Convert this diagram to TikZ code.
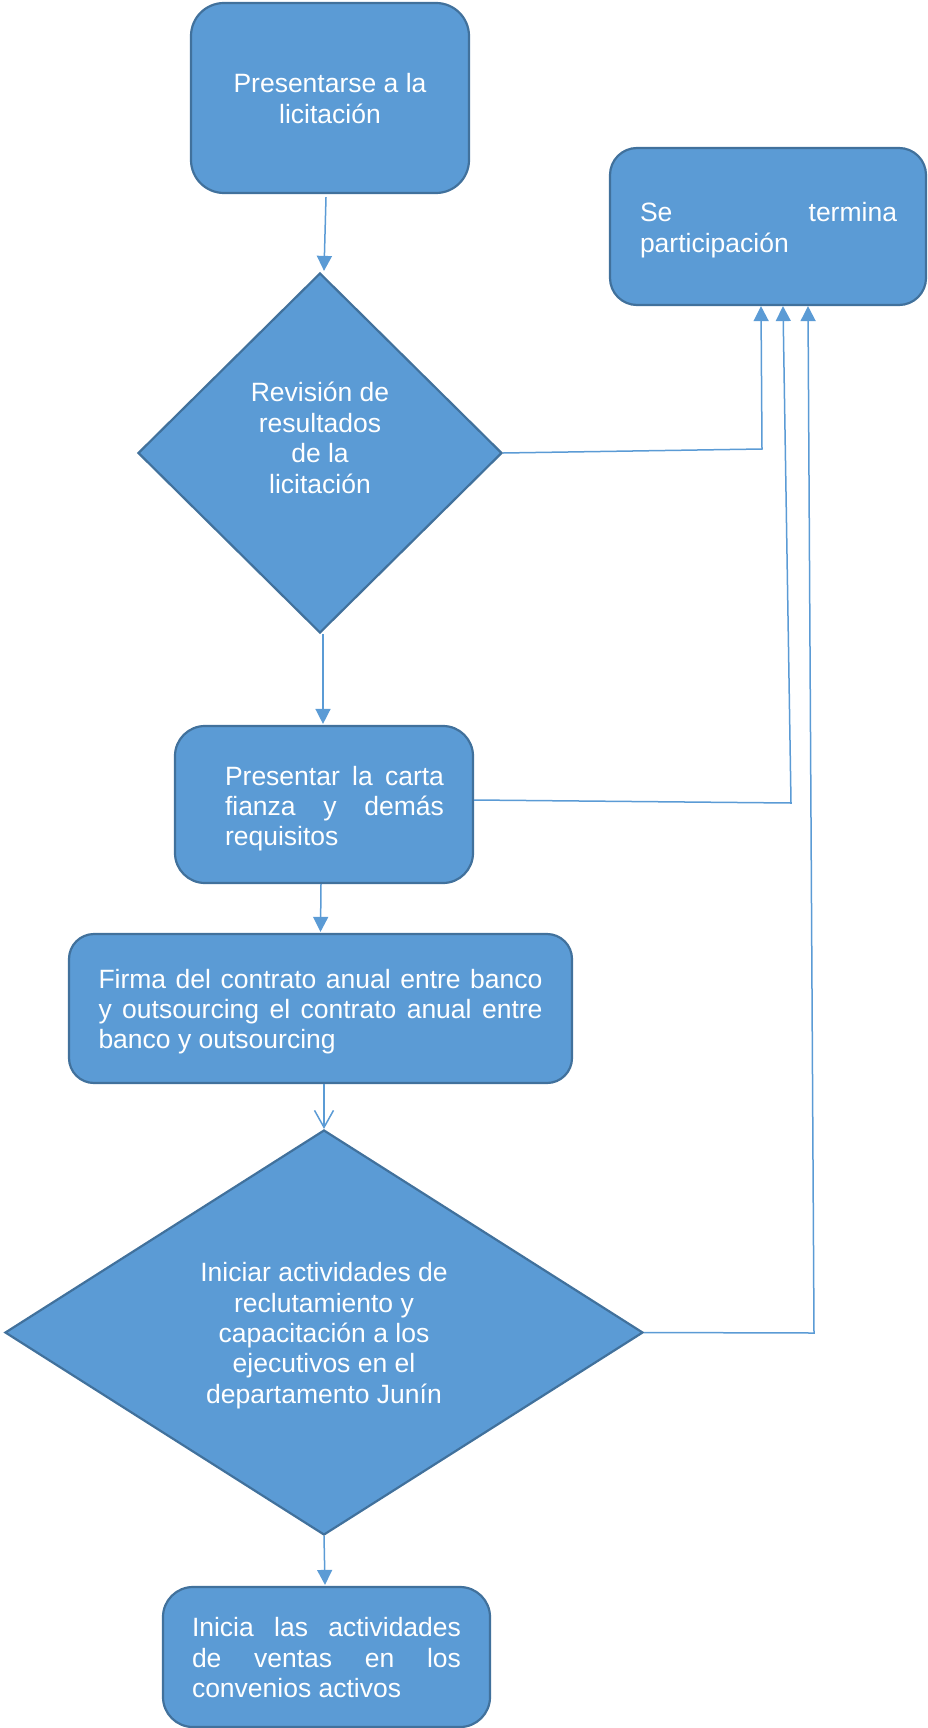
\documentclass[tikz,border=0pt]{standalone}
\usepackage{fontspec}
\setmainfont{Liberation Sans}
\usetikzlibrary{arrows.meta,shapes.geometric}
\definecolor{fillblue}{HTML}{5B9BD5}
\definecolor{edgeblue}{HTML}{41719C}
\definecolor{linkblue}{HTML}{5B9BD5}
% #1 left padding, #2 push text down, #3 column type, #4 lines
\newcommand\tb[4]{\raisebox{0pt}[\dimexpr\height+#2\relax][\dimexpr\depth-#2\relax]{\hspace*{#1}\begin{tabular}{@{}#3@{}}#4\end{tabular}}}
\tikzset{
  shapebase/.style={draw=edgeblue, fill=fillblue, line width=2.2pt, text=white, inner sep=0pt,
    font=\fontsize{26.5pt}{30.4pt}\selectfont},
  boxnode/.style={shapebase, rectangle},
  dianode/.style={shapebase, diamond, aspect=1},
  conn/.style={draw=linkblue, line width=1.5pt},
  arr/.style={conn, -{Triangle[width=15pt,length=15pt]}},
  openarr/.style={conn, -{Straight Barb[width=19pt,length=17pt]}}
}
\begin{document}
\begin{tikzpicture}[x=1pt,y=-1pt]
\useasboundingbox (0,0) rectangle (927,1728);

\node[boxnode, minimum width=278pt, minimum height=190pt, rounded corners=33pt] (n1) at (330,98)
  {\tb{0pt}{4pt}{c}{Presentarse a la\\licitación}};
\node[boxnode, minimum width=316pt, minimum height=157pt, rounded corners=27pt] (n2) at (768,226.5)
  {\tb{1pt}{4.6pt}{l}{\makebox[257pt][s]{Se termina}\\participación}};
\node[dianode, minimum width=364pt, minimum height=360pt] (d1) at (320,453)
  {\tb{0pt}{-11.5pt}{c}{Revisión de\\resultados\\de la\\licitación}};
\node[boxnode, minimum width=298pt, minimum height=157pt, rounded corners=30pt] (n3) at (324,804.5)
  {\tb{21pt}{5pt}{l}{\makebox[219pt][s]{Presentar la carta}\\\makebox[219pt][s]{fianza y demás}\\requisitos}};
\node[boxnode, minimum width=503pt, minimum height=149pt, rounded corners=25pt] (n4) at (320.5,1008.5)
  {\tb{0pt}{4pt}{l}{\makebox[444pt][s]{Firma del contrato anual entre banco}\\\makebox[444pt][s]{y outsourcing el contrato anual entre}\\banco y outsourcing}};
\node[dianode, minimum width=638pt, minimum height=405pt] (d2) at (324,1332.5)
  {\tb{0pt}{4pt}{c}{Iniciar actividades de\\reclutamiento y\\capacitación a los\\ejecutivos en el\\departamento Junín}};
\node[boxnode, minimum width=327pt, minimum height=140pt, rounded corners=30pt] (n5) at (326.5,1657)
  {\tb{0pt}{4pt}{l}{\makebox[269pt][s]{Inicia las actividades}\\\makebox[269pt][s]{de ventas en los}\\convenios activos}};

\coordinate (c1) at (762,449);
\coordinate (c2) at (791,803);
\coordinate (c3) at (814,1333);

\draw[arr] ([xshift=-4pt,yshift=-3pt]n1.south) -- ([xshift=4pt,yshift=1pt]d1.north);
\draw[arr] ([xshift=-1pt]n3.north |- d1.south) -- ([xshift=-1pt,yshift=1pt]n3.north);
\draw[arr] ([xshift=-3pt]n3.south) -- ([yshift=1pt]n4.north);
\draw[openarr] ([xshift=3.5pt]n4.south) -- (d2.north);
\draw[arr] (d2.south) -- ([xshift=-1.5pt,yshift=1pt]n5.north);
\draw[arr] (d1.east) -- (c1) -- ([xshift=-7pt]n2.south);
\draw[arr] ([yshift=4.5pt]n3.east) -- (c2) -- ([xshift=15pt]n2.south);
\draw[arr] (d2.east) -- (c3) -- ([xshift=40pt]n2.south);
\end{tikzpicture}
\end{document}
